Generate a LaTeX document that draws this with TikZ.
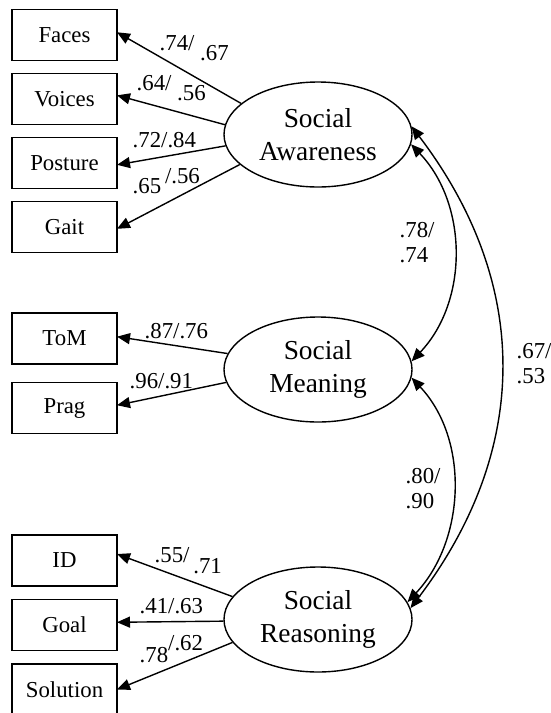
\documentclass[tikz,border=0pt]{standalone}
\usepackage{fontspec}
\setmainfont{Liberation Serif}
\usetikzlibrary{shapes.geometric,arrows.meta,positioning}

\begin{document}
\begin{tikzpicture}[x=0.5pt, y=-0.5pt, line width=0.7pt,
    indicator/.style={draw, rectangle, minimum width=52.5pt, minimum height=25.5pt,
        inner sep=0pt, outer sep=0pt, font=\fontsize{11.4}{13}\selectfont},
    factor/.style={draw, ellipse, minimum width=94pt, minimum height=52.5pt,
        inner sep=0pt, align=center, font=\fontsize{13.7}{16.5}\selectfont},
    load/.style={inner sep=0pt, anchor=base west, font=\fontsize{11.4}{13}\selectfont},
    corr/.style={inner sep=0pt, anchor=north west, align=left, font=\fontsize{11.4}{12.5}\selectfont},
    loadarrow/.style={-{Triangle[length=6.5pt,width=5.5pt]}},
    corrarrow/.style={{Triangle[length=6.5pt,width=5.5pt]}-{Triangle[length=6.5pt,width=5.5pt]}}]
    \useasboundingbox (0,0) rectangle (551,713);

    % Draw the factors
    \node[factor] (SA) at (318,134.5) {Social\\Awareness};
    \node[factor] (SM) at (318,369.5) {Social\\Meaning};
    \node[factor] (SR) at (318,619.5) {Social\\Reasoning};

    % Draw the indicators
    \node[indicator] (faces) at (64.5,35) {Faces};
    \node[indicator, below=6.5pt of faces] (voices) {Voices};
    \node[indicator, below=6.5pt of voices] (posture) {Posture};
    \node[indicator, below=6.5pt of posture] (gait) {Gait};

    \node[indicator] (tom) at (64.5,338.5) {ToM};
    \node[indicator, below=9.25pt of tom] (prag) {Prag};

    \node[indicator] (id) at (64.5,560.5) {ID};
    \node[indicator, below=6.75pt of id] (goal) {Goal};
    \node[indicator, below=6.75pt of goal] (solution) {Solution};

    % Draw loadings
    \draw[loadarrow] (SA.158) -- (faces.3);
    \draw[loadarrow] (SA.174) -- (voices.4);
    \draw[loadarrow] (SA.187) -- (posture.-2);
    \draw[loadarrow] (SA.201) -- (gait.-2);
    \draw[loadarrow] (SM.170) -- (tom.2);
    \draw[loadarrow] (SM.188) -- (prag.3);
    \draw[loadarrow] (SR.165) -- (id.7);
    \draw[loadarrow] (SR.181) -- (goal.3);
    \draw[loadarrow] (SR.195) -- (solution.east);

    \node[load] (lfaces) at (159,50) {.74/ \raisebox{-5pt}{.67}};
    \node[load] (lvoices) at (136,90) {.64/ \raisebox{-5pt}{.56}};
    \node[load] (lposture) at (132,147) {.72/.84};
    \node[load] (lgait) at (132,193) {.65\,\raisebox{5pt}{/.56}};
    \node[load] (ltom) at (144,338) {.87/.76};
    \node[load] (lprag) at (129,388) {.96/.91};
    \node[load] (lid) at (154,562) {.55/\,\raisebox{-5.5pt}{.71}};
    \node[load] (lgoal) at (139,613) {.41/.63};
    \node[load] (lsolution) at (139,662) {.78\raisebox{6pt}{/.62}};

    % Draw correlations
    \draw[corrarrow] (SA.-6) .. controls +(57,60) and +(57,-60) .. (SM.5);
    \draw[corrarrow] (SM.-5) .. controls +(58,62) and +(58,-62) .. (SR.11);
    \draw[corrarrow] (SA.5) .. controls +(120,158) and +(120,-158) .. (SR.7);

    \node[corr] (cam) at (399,222) {.78/\\.74};
    \node[corr] (cmr) at (405,468) {.80/\\.90};
    \node[corr] (car) at (516,343) {.67/\\.53};
\end{tikzpicture}
\end{document}
